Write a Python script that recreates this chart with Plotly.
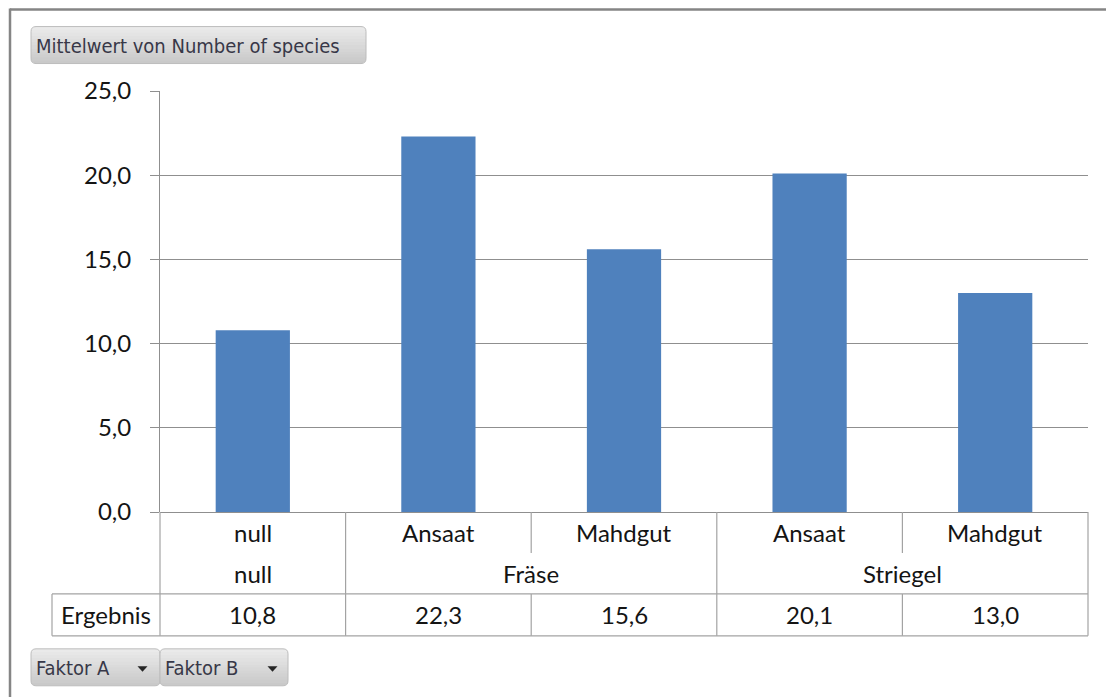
import math
import plotly.graph_objects as go

# ---- data ----
faktor_b = ["null", "Ansaat", "Mahdgut", "Ansaat", "Mahdgut"]
faktor_a_groups = ["null", "Fräse", "Striegel"]
faktor_a_spans = [1, 2, 2]
values = [10.8, 22.3, 15.6, 20.1, 13.0]
y_ticks = [0, 5, 10, 15, 20, 25]

W, H = 1106, 697
L, R, T, B = 160, 1088, 90.5, 512  # plot area in pixels


def px(X):
    return (X - L) / (R - L)


def py(Y):
    return (B - Y) / (B - T)


GRID = "#8f8f8f"
TABLE = "#a3a3a3"
TXT = "#141414"
FONT = "Lato"
TSIZE = 24

n = len(values)
xs = list(range(n))
fig = go.Figure()
fig.add_trace(go.Bar(x=xs, y=values, marker=dict(color="#4F81BD", line=dict(width=0)),
                     width=0.4, hoverinfo="y"))

shapes = []
annotations = []

# frame
shapes.append(dict(type="line", xref="paper", yref="paper", x0=px(10), x1=px(W + 5), y0=py(9), y1=py(9),
                   line=dict(color="#858585", width=2.5)))
shapes.append(dict(type="line", xref="paper", yref="paper", x0=px(10), x1=px(10), y0=py(8), y1=py(H + 5),
                   line=dict(color="#858585", width=2.5)))

# table rows
row1_y, row2_y, row3_y = 533, 574, 615
for i, lab in enumerate(faktor_b):
    annotations.append(dict(x=i, y=py(row1_y), xref="x", yref="paper", text=lab, showarrow=False,
                            font=dict(family=FONT, size=TSIZE, color=TXT), xanchor="center", yanchor="middle"))
    annotations.append(dict(x=i, y=py(row3_y), xref="x", yref="paper",
                            text=f"{values[i]:.1f}".replace(".", ","), showarrow=False,
                            font=dict(family=FONT, size=TSIZE, color=TXT), xanchor="center", yanchor="middle"))

start = 0
group_of = []
for g, span in zip(faktor_a_groups, faktor_a_spans):
    center = start + (span - 1) / 2
    annotations.append(dict(x=center, y=py(row2_y), xref="x", yref="paper", text=g, showarrow=False,
                            font=dict(family=FONT, size=TSIZE, color=TXT), xanchor="center", yanchor="middle"))
    group_of += [g] * span
    start += span

annotations.append(dict(x=px(106), y=py(row3_y), xref="paper", yref="paper", text="Ergebnis", showarrow=False,
                        font=dict(family=FONT, size=TSIZE, color=TXT), xanchor="center", yanchor="middle"))

# vertical table lines (category boundaries)
for b in range(n + 1):
    xb = b / n  # paper fraction
    if b == 0 or b == n or group_of[b - 1] != group_of[b]:
        segs = [(512, 636)]
    else:
        segs = [(512, 553), (594, 636)]
    for y0, y1 in segs:
        shapes.append(dict(type="line", xref="paper", yref="paper", x0=xb, x1=xb, y0=py(y0), y1=py(y1),
                           line=dict(color=TABLE, width=1.2)))
for Y in (594, 636):
    shapes.append(dict(type="line", xref="paper", yref="paper", x0=px(52), x1=1, y0=py(Y), y1=py(Y),
                       line=dict(color=TABLE, width=1.2)))
shapes.append(dict(type="line", xref="paper", yref="paper", x0=px(52), x1=px(52), y0=py(594), y1=py(636),
                   line=dict(color=TABLE, width=1.2)))


def P(X, Y):
    return f"{px(X)},{py(Y)}"


def inset_at(Y, y0, y1, r):
    if Y < y0 + r:
        d = r - (Y - y0)
    elif Y > y1 - r:
        d = Y - (y1 - r)
    else:
        return 0.0
    d = min(d, r)
    return r - math.sqrt(max(r * r - d * d, 0.0))


def lerp_col(c0, c1, t):
    return "#" + "".join(f"{round(a + (b - a) * t):02x}" for a, b in zip(c0, c1))


def button(x0, y0, x1, y1, label, arrow_x=None):
    r = 5
    top_c, bot_c = (0xEB, 0xEB, 0xEB), (0xC8, 0xC8, 0xC8)
    nb = 12
    h = (y1 - y0) / nb
    for k in range(nb):
        ya, yb = y0 + k * h, y0 + (k + 1) * h + 0.6
        yb = min(yb, y1)
        ys = [ya + (yb - ya) * j / 4 for j in range(5)]
        left = [(x0 + inset_at(Y, y0, y1, r), Y) for Y in ys]
        right = [(x1 - inset_at(Y, y0, y1, r), Y) for Y in reversed(ys)]
        pts = left + right
        path = "M " + " L ".join(P(a, b) for a, b in pts) + " Z"
        shapes.append(dict(type="path", xref="paper", yref="paper", path=path,
                           fillcolor=lerp_col(top_c, bot_c, (k + 0.5) / nb), line=dict(width=0)))
    path = (f"M {P(x0 + r, y0)} L {P(x1 - r, y0)} Q {P(x1, y0)} {P(x1, y0 + r)} "
            f"L {P(x1, y1 - r)} Q {P(x1, y1)} {P(x1 - r, y1)} L {P(x0 + r, y1)} "
            f"Q {P(x0, y1)} {P(x0, y1 - r)} L {P(x0, y0 + r)} Q {P(x0, y0)} {P(x0 + r, y0)} Z")
    shapes.append(dict(type="path", xref="paper", yref="paper", path=path, fillcolor="rgba(0,0,0,0)",
                       line=dict(color="#bcbcbc", width=1)))
    mid = (y0 + y1) / 2
    annotations.append(dict(x=px(x0 + 3), y=py(mid + 1), xref="paper", yref="paper", text=label,
                            showarrow=False, xanchor="left", yanchor="middle",
                            font=dict(family="DejaVu Sans Condensed, DejaVu Sans", size=20, color="#383848")))
    if arrow_x is not None:
        tri = (f"M {P(arrow_x - 5, 666.5)} L {P(arrow_x + 5, 666.5)} L {P(arrow_x, 672)} Z")
        shapes.append(dict(type="path", xref="paper", yref="paper", path=tri, fillcolor="#262626",
                           line=dict(width=0)))


button(31, 26, 366, 63, "Mittelwert von Number of species")
button(31, 649, 160, 686, "Faktor A", arrow_x=142.5)
button(160, 649, 288, 686, "Faktor B", arrow_x=272.5)

fig.update_layout(
    width=W, height=H, autosize=False,
    margin=dict(l=L, r=W - R, t=T, b=H - B, pad=0),
    paper_bgcolor="white", plot_bgcolor="white",
    separators=",.",
    showlegend=False,
    bargap=0.6,
    shapes=shapes,
    annotations=annotations,
    xaxis=dict(range=[-0.5, n - 0.5], showticklabels=False, showgrid=False, zeroline=False,
               showline=False, ticks="", fixedrange=True),
    yaxis=dict(range=[0, 25], tickvals=y_ticks, tickformat=".1f", showgrid=True, gridcolor=GRID,
               gridwidth=1, zeroline=True, zerolinecolor=GRID, zerolinewidth=1,
               showline=True, linecolor=GRID, linewidth=1, ticks="outside", ticklen=9,
               tickcolor=GRID, ticklabelstandoff=14,
               tickfont=dict(family=FONT, size=24, color=TXT), fixedrange=True),
)

fig.write_html("out.html", config={"displayModeBar": False})
